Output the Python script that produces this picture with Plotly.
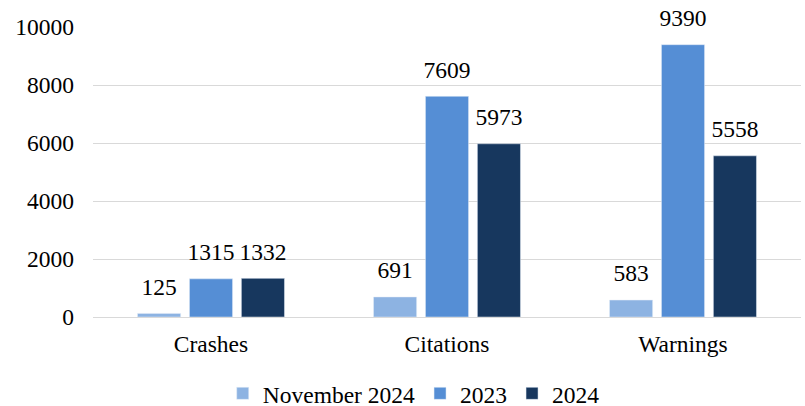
import plotly.graph_objects as go

categories = ["Crashes", "Citations", "Warnings"]
series_names = ["November 2024", "2023", "2024"]
nov2024 = [125, 691, 583]
y2023 = [1315, 7609, 9390]
y2024 = [1332, 5973, 5558]
colors = ["#8DB3E2", "#558ED5", "#17375E"]

FONT = "Liberation Serif"
FS = 23.5

fig = go.Figure()
for name, vals, c in zip(series_names, [nov2024, y2023, y2024], colors):
    fig.add_trace(go.Bar(
        x=categories, y=vals, name=name, marker_color=c,
        hoverinfo="skip",
    ))
# value labels, grouped like the bars, lifted a bit above the bar tops
for name, vals in zip(series_names, [nov2024, y2023, y2024]):
    fig.add_trace(go.Scatter(
        x=categories, y=vals, mode="markers+text",
        marker=dict(size=19, opacity=0),
        text=[str(v) for v in vals], textposition="top center",
        textfont=dict(family=FONT, size=FS, color="#000000"),
        showlegend=False, hoverinfo="skip", cliponaxis=False,
    ))

fig.update_layout(
    width=805, height=406,
    margin=dict(l=93, r=4, t=27, b=89, autoexpand=False),
    plot_bgcolor="white", paper_bgcolor="white",
    barmode="group", bargap=0.34, bargroupgap=0.17,
    scattermode="group", scattergap=0.34,
    font=dict(family=FONT, size=FS, color="#000000"),
    showlegend=True,
    legend=dict(orientation="h", x=0.453, xanchor="center", y=-0.264, yanchor="middle",
                font=dict(size=FS), itemwidth=30, traceorder="normal"),
    xaxis=dict(showline=True, linecolor="#D9D9D9", ticks="", automargin=False,
               tickfont=dict(size=FS), ticklabelstandoff=6),
    yaxis=dict(range=[0, 10000], dtick=2000, tickformat="d", showgrid=True,
               gridcolor="#D9D9D9", zeroline=False, ticks="", automargin=False,
               tickfont=dict(size=FS), ticklabelstandoff=18),
)

fig.write_html("out.html", config={"displayModeBar": False},
               post_script="document.body.style.margin='0';document.body.style.overflow='hidden';")
